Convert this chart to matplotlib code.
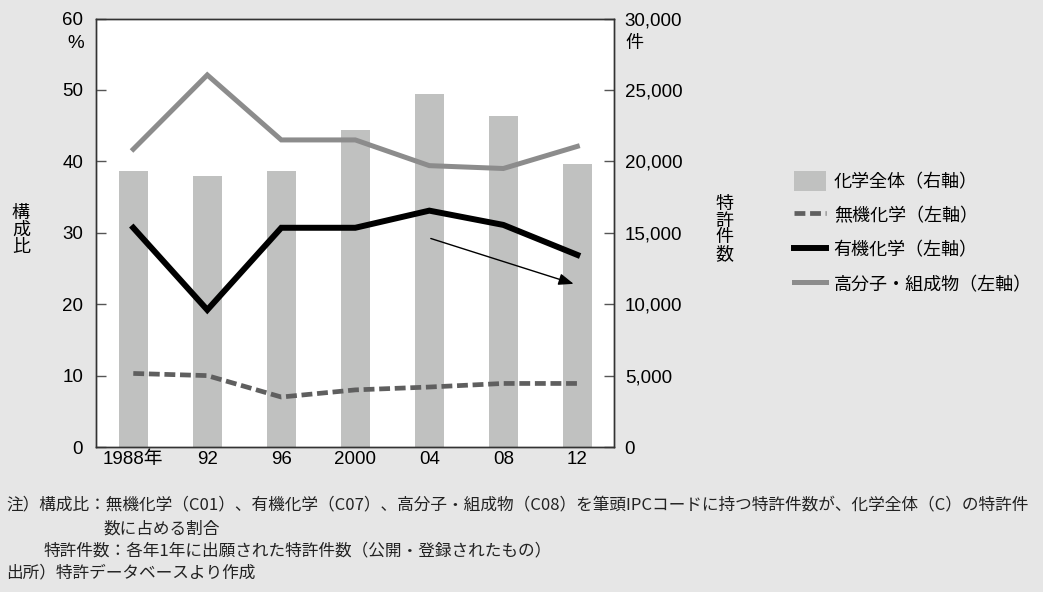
import numpy as np
import matplotlib
matplotlib.use('Agg')
import matplotlib.pyplot as plt
from matplotlib.patches import Patch
from matplotlib.lines import Line2D

plt.rcParams['font.family'] = ['Noto Sans CJK JP', 'DejaVu Sans']

years = ['1988年', '92', '96', '2000', '04', '08', '12']
total_patents = [19350, 19000, 19350, 22200, 24700, 23200, 19850]
inorganic = [10.3, 10.0, 7.0, 8.0, 8.4, 8.9, 8.9]
organic = [30.7, 19.2, 30.7, 30.7, 33.1, 31.1, 26.9]
polymer = [41.7, 52.1, 43.0, 43.0, 39.4, 39.0, 42.1]

bg = '#e6e6e6'
bar_color = '#c0c1c0'
num_font = ['Liberation Sans', 'DejaVu Sans']

fig = plt.figure(figsize=(10.43, 5.92), dpi=100, facecolor=bg)
ax = fig.add_axes([0.0916, 0.2449, 0.4967, 0.7238])
ax.set_facecolor('white')
ax2 = ax.twinx()

x = np.arange(len(years))

# bars on the right axis, drawn behind the lines
ax2.bar(x, total_patents, width=0.39, color=bar_color, zorder=1)
ax2.set_ylim(0, 30000)
ax2.set_yticks(np.arange(0, 30001, 5000))
ax2.set_yticklabels([f'{v:,}' for v in range(0, 30001, 5000)], fontfamily=num_font)
ax2.tick_params(axis='y', direction='in', length=7, width=1, color='#555555',
                labelsize=13.5, pad=8)

ax.set_zorder(ax2.get_zorder() + 1)
ax.patch.set_visible(False)
ax2.patch.set_visible(True)
ax2.patch.set_facecolor('white')

ax.plot(x, polymer, color='#8c8c8c', lw=3.6, solid_joinstyle='miter', zorder=3)
ax.plot(x, organic, color='black', lw=4.3, solid_joinstyle='miter', zorder=4)
ax.plot(x, inorganic, color='#5f5f5f', lw=3.4, dashes=(2.3, 1.0), zorder=3)

ax.annotate('', xy=(5.95, 22.85), xytext=(4.02, 29.2),
            arrowprops=dict(arrowstyle='-|>,head_length=0.9,head_width=0.35',
                            color='black', lw=1.0, shrinkA=0, shrinkB=0))

ax.set_xlim(-0.51, 6.49)
ax.set_ylim(0, 60)
ax.set_yticks(np.arange(0, 61, 10))
ax.set_yticklabels([str(v) for v in range(0, 61, 10)], fontfamily=num_font)
ax.tick_params(axis='y', direction='in', length=7, width=1, color='#555555',
               labelsize=13.5, pad=9)
ax.set_xticks(x)
ax.set_xticklabels(years, fontfamily=num_font + ['Noto Sans CJK JP'])
ax.tick_params(axis='x', length=0, labelsize=13.5, pad=3)

for a in (ax, ax2):
    for s in a.spines.values():
        s.set_color('#333333')
        s.set_linewidth(1.0)

# unit marks and stacked axis titles
fig.text(76 / 1043, 1 - 43 / 592, '%', fontsize=13.5, ha='center', va='center',
         fontfamily=num_font)
fig.text(625 / 1043, 1 - 43 / 592, '件', fontsize=13, ha='left', va='center')
fig.text(21 / 1043, 1 - 230 / 592, '構\n成\n比', fontsize=13, ha='center',
         va='center', linespacing=0.95)
fig.text(724 / 1043, 1 - 229 / 592, '特\n許\n件\n数', fontsize=13, ha='center',
         va='center', linespacing=0.92)

handles = [
    Patch(facecolor=bar_color, edgecolor='none'),
    Line2D([0], [0], color='#5f5f5f', lw=3.4, dashes=(2.3, 1.0)),
    Line2D([0], [0], color='black', lw=4.3),
    Line2D([0], [0], color='#8c8c8c', lw=3.6),
]
labels = ['化学全体（右軸）', '無機化学（左軸）', '有機化学（左軸）', '高分子・組成物（左軸）']
fig.legend(handles, labels, loc='upper left', bbox_to_anchor=(794 / 1043, 1 - 171 / 592),
           frameon=False, fontsize=13, handlelength=1.75, handleheight=1.3,
           handletextpad=0.45, labelspacing=0.8, borderpad=0, borderaxespad=0)

notes = [
    (6, 506, '注）構成比：無機化学（C01）、有機化学（C07）、高分子・組成物（C08）を筆頭IPCコードに持つ特許件数が、化学全体（C）の特許件'),
    (103, 529, '数に占める割合'),
    (44, 551, '特許件数：各年1年に出願された特許件数（公開・登録されたもの）'),
    (6, 573, '出所）特許データベースより作成'),
]
for nx_, ny_, t in notes:
    fig.text(nx_ / 1043, 1 - ny_ / 592, t, fontsize=12, ha='left', va='center',
             color='#222222')

fig.savefig('out.png', dpi=100, facecolor=bg)
